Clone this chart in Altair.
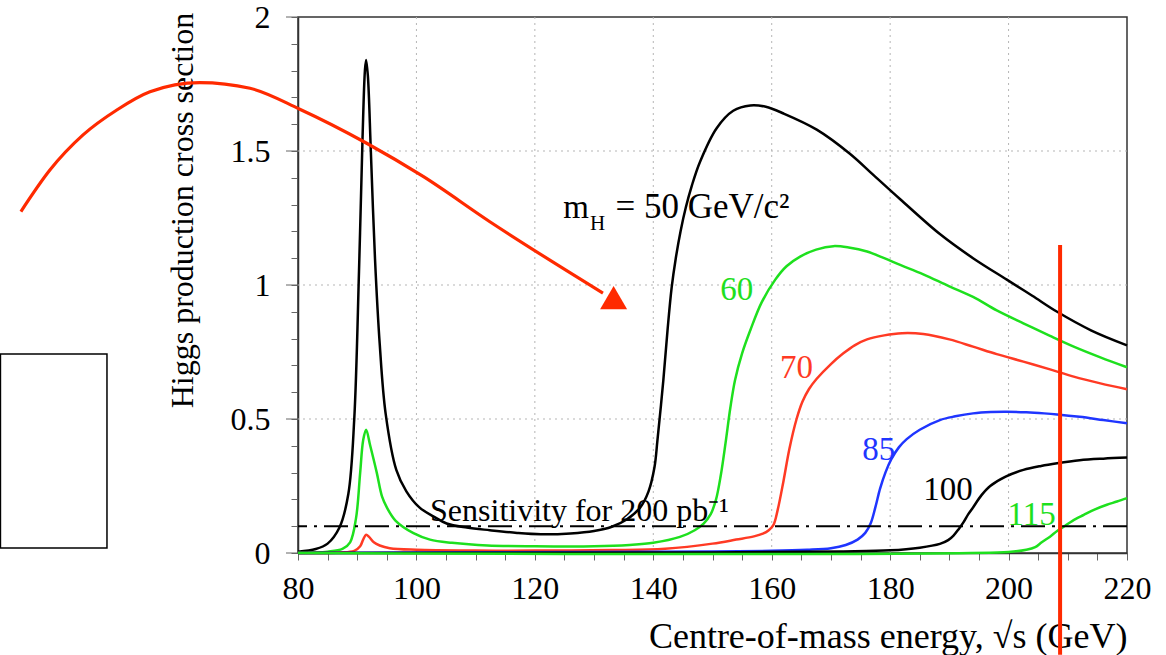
import altair as alt
import pandas as pd

FONT = "Liberation Serif"

# ---- curves: centre-of-mass energy (GeV) vs cross section (pb) ----
x_50 = [80, 83, 85, 87, 88.5, 89.5, 90.3, 90.9, 91.3, 91.5, 91.8, 92.3, 93.0, 93.8, 94.8, 96.6,
        98.3, 100.5, 103, 105.1, 108.5, 112.4, 117, 121, 126, 130, 133, 135.5, 137.8, 139.2,
        140.2, 140.7, 141.7, 142.4, 143.1, 143.8, 144.6, 145.5, 146.5, 147.9, 150.7, 153.5, 156.4, 159,
        162, 167.6, 173.2, 177.2, 181.7, 188.4, 194, 199.7, 204, 208.2, 214, 220]
y_50 = [0.005, 0.015, 0.035, 0.095, 0.22, 0.50, 1.05, 1.55, 1.80, 1.84, 1.78, 1.50, 1.10, 0.78, 0.52, 0.31,
        0.23, 0.17, 0.135, 0.11, 0.095, 0.085, 0.075, 0.07, 0.073, 0.082, 0.098, 0.125, 0.17, 0.23,
        0.32, 0.42, 0.645, 0.83, 0.99, 1.10, 1.20, 1.29, 1.37, 1.46, 1.585, 1.65, 1.67, 1.665,
        1.64, 1.58, 1.49, 1.41, 1.32, 1.19, 1.10, 1.02, 0.96, 0.90, 0.83, 0.775]

x_60 = [80, 85, 87.5, 88.8, 89.8, 90.5, 91.0, 91.5, 92.2, 93.3, 94.2, 95.0, 96.5, 99.5, 102.3,
        106, 112, 120, 130, 136, 140, 144.5, 147, 148.5, 149.7, 150.6, 151.4, 152.2, 153.0, 153.8,
        155, 156.4, 158.3, 160.6, 162.5, 164.8, 167.5, 170.4, 173, 176.1, 179, 181.7, 185.6, 190,
        194, 198, 202.5, 207, 211, 215.5, 220]
y_60 = [0.001, 0.005, 0.015, 0.04, 0.13, 0.30, 0.42, 0.46, 0.40, 0.30, 0.21, 0.17, 0.12, 0.074, 0.05,
        0.038, 0.028, 0.025, 0.025, 0.03, 0.038, 0.06, 0.085, 0.11, 0.145, 0.20, 0.29, 0.41, 0.54, 0.645,
        0.745, 0.832, 0.935, 1.02, 1.07, 1.106, 1.132, 1.145, 1.14, 1.125, 1.10, 1.075, 1.04, 0.995,
        0.956, 0.905, 0.857, 0.81, 0.77, 0.73, 0.693]

x_70 = [80, 87, 89.5, 90.5, 91.0, 91.5, 92.0, 92.8, 93.8, 95.5, 100, 110, 120, 133, 142, 150,
        154, 157, 158.5, 159.5, 160.3, 161, 162, 163, 164.2, 165.2, 166.3, 167.6, 170, 172.1,
        174, 176.1, 179, 182, 185.6, 190, 194, 198, 202.5, 207, 211, 215.5, 220]
y_70 = [0.0, 0.002, 0.008, 0.025, 0.05, 0.068, 0.06, 0.04, 0.028, 0.018, 0.012, 0.009, 0.009, 0.011, 0.016, 0.035,
        0.05, 0.062, 0.072, 0.085, 0.105, 0.16, 0.27, 0.39, 0.50, 0.565, 0.612, 0.65, 0.705, 0.745,
        0.775, 0.797, 0.812, 0.82, 0.817, 0.797, 0.77, 0.742, 0.714, 0.685, 0.658, 0.633, 0.611]

x_85 = [80, 100, 130, 150, 160, 166, 170, 172.5, 174.5, 175.8, 176.7, 177.5, 178.3, 179.2, 180.2,
        181.5, 182.8, 185, 188.4, 191, 194, 197, 199.7, 203, 206, 208.2, 212, 216, 220]
y_85 = [0.0, 0.002, 0.004, 0.006, 0.008, 0.012, 0.018, 0.03, 0.05, 0.075, 0.11, 0.17, 0.24, 0.30, 0.35,
        0.395, 0.425, 0.46, 0.496, 0.51, 0.521, 0.526, 0.527, 0.525, 0.521, 0.517, 0.508, 0.496, 0.484]

x_100 = [80, 150, 171.6, 180, 185, 188.4, 189.8, 190.7, 191.6, 192.4, 193.2, 194, 195.4, 196.9,
         199.5, 202.5, 205.5, 208.2, 212, 216, 220]
y_100 = [0.0, 0.002, 0.006, 0.01, 0.02, 0.034, 0.048, 0.065, 0.09, 0.115, 0.145, 0.17, 0.215, 0.25,
         0.285, 0.31, 0.325, 0.335, 0.346, 0.352, 0.356]

x_115 = [80, 200, 203, 204.5, 205.6, 207.0, 208.2, 209.3, 210.8, 212.7, 214.5, 216.6, 218.3, 220]
y_115 = [0.0, 0.004, 0.012, 0.022, 0.04, 0.061, 0.082, 0.098, 0.12, 0.142, 0.162, 0.18, 0.192, 0.205]

series_names = ["50", "60", "70", "85", "100", "115"]
series_colors = ["#000000", "#1ee01e", "#ff3a24", "#1f35ff", "#000000", "#1ee01e"]

# ---- axes ----
x_ticks = list(range(80, 221, 5))
x_labels = [80, 100, 120, 140, 160, 180, 200, 220]
x_grid = [100, 120, 140, 160, 180, 200]
y_ticks = [0, 0.1, 0.2, 0.3, 0.4, 0.5, 0.6, 0.7, 0.8, 0.9, 1, 1.1, 1.2, 1.3, 1.4, 1.5,
           1.6, 1.7, 1.8, 1.9, 2]
y_labels = [0, 0.5, 1, 1.5, 2]
y_grid = [0.5, 1, 1.5]

# ---- annotations ----
sens_level = [0.1]
sens_text = ["Sensitivity for 200 pb\u207b\u00b9"]
sens_pos = [(102.3, 0.118)]

curve_labels = ["60", "70", "85", "100", "115"]
curve_label_x = [151.3, 161.4, 175.3, 185.6, 199.8]
curve_label_y = [0.944, 0.653, 0.347, 0.198, 0.104]
curve_label_colors = ["#1ee01e", "#ff3a24", "#1f35ff", "#000000", "#1ee01e"]

mh_parts = ["m", "H", "= 50 GeV/c\u00b2"]
mh_x = [124.8, 129.3, 133.6]
mh_y = [1.25, 1.207, 1.25]
mh_size = [33, 21, 35]

arrow_x = [33.2, 38.1, 43.7, 49.4, 55.0, 63.4, 71.9, 80.3, 91.6, 101.2, 112.4, 131.5]
arrow_y = [1.274, 1.429, 1.560, 1.653, 1.721, 1.755, 1.734, 1.656, 1.529, 1.404, 1.236, 0.970]
arrow_head = [(133.3, 0.953)]

marker_x = [208.7]
marker_y = [(1.149, -0.38)]

box = [(29.75, 47.74, 0.7425, 0.0187)]

RED = "#ff2a00"

# ---- build tables ----
rows = []
for name, xs, ys in zip(series_names, [x_50, x_60, x_70, x_85, x_100, x_115],
                        [y_50, y_60, y_70, y_85, y_100, y_115]):
    for i, (a, b) in enumerate(zip(xs, ys)):
        rows.append({"series": name, "E": a, "sigma": b, "i": i})
curves_df = pd.DataFrame(rows)

xscale = alt.Scale(domain=[80, 220], nice=False, zero=False)
yscale = alt.Scale(domain=[0, 2], nice=False, zero=False)

x_label_expr = "indexof([" + ",".join(str(v) for v in x_labels) + "], datum.value) >= 0 ? datum.label : ''"
y_label_expr = "indexof([" + ",".join(str(v) for v in y_labels) + "], datum.value) >= 0 ? datum.label : ''"

x_axis = alt.Axis(
    values=x_ticks, labelExpr=x_label_expr, grid=False,
    title="Centre-of-mass energy, \u221as (GeV)",
    titleFont=FONT, titleFontSize=36, titleFontWeight="normal", titleColor="#000",
    titleX=829, titleY=94, titleAlign="right", titleBaseline="alphabetic", titleAngle=0,
    labelFont=FONT, labelFontSize=32, labelColor="#000", labelPadding=13,
    labelFlush=False, labelOverlap=False,
    tickSize=7, tickColor="#666", domainColor="#333", domainWidth=1.5,
)
y_axis = alt.Axis(
    values=y_ticks, labelExpr=y_label_expr, grid=False, format=".1~f",
    title="Higgs production cross section",
    titleFont=FONT, titleFontSize=32, titleFontWeight="normal", titleColor="#000",
    titleX=-106, titleY=193, titleAngle=270, titleAlign="center", titleBaseline="alphabetic",
    labelFont=FONT, labelFontSize=32, labelColor="#000", labelPadding=21,
    labelFlush=False, labelOverlap=False,
    tickSize=7, tickColor="#666", domainColor="#333", domainWidth=1.5,
)


def X(field):
    return alt.X(field, type="quantitative", scale=xscale, axis=x_axis)


def Y(field):
    return alt.Y(field, type="quantitative", scale=yscale, axis=y_axis)


xgrid = alt.Chart(pd.DataFrame({"v": x_grid})).mark_rule(
    color="#b5b5b5", strokeDash=[2, 4], strokeWidth=1
).encode(x=X("v"))
ygrid = alt.Chart(pd.DataFrame({"v": y_grid})).mark_rule(
    color="#b5b5b5", strokeDash=[2, 4], strokeWidth=1
).encode(y=Y("v"))

major_ticks = alt.Chart(pd.DataFrame({"v": y_labels})).mark_rule(
    color="#666", strokeWidth=1
).encode(y=Y("v"), x=alt.value(-12), x2=alt.value(0))

curves = alt.Chart(curves_df).mark_line(strokeWidth=2.5, interpolate="catmull-rom").encode(
    x=X("E"),
    y=Y("sigma"),
    color=alt.Color("series:N", scale=alt.Scale(domain=series_names, range=series_colors), legend=None),
    detail="series:N",
    order="i:Q",
)

sens = alt.Chart(pd.DataFrame({"v": sens_level})).mark_rule(
    color="#000", strokeWidth=2, strokeDash=[24, 7, 3, 7]
).encode(y=Y("v"))

sens_lbl = alt.Chart(pd.DataFrame({"t": sens_text, "x": [p[0] for p in sens_pos],
                                   "y": [p[1] for p in sens_pos]})).mark_text(
    align="left", baseline="alphabetic", font=FONT, fontSize=32, color="#000"
).encode(x=X("x"), y=Y("y"), text="t:N")

clabels = alt.Chart(pd.DataFrame({"t": curve_labels, "x": curve_label_x, "y": curve_label_y,
                                  "c": curve_label_colors})).mark_text(
    align="left", baseline="alphabetic", font=FONT, fontSize=33
).encode(x=X("x"), y=Y("y"), text="t:N", color=alt.Color("c:N", scale=None))

mh = alt.Chart(pd.DataFrame({"t": mh_parts, "x": mh_x, "y": mh_y, "s": mh_size})).mark_text(
    align="left", baseline="alphabetic", font=FONT, color="#000"
).encode(x=X("x"), y=Y("y"), text="t:N", size=alt.Size("s:Q", scale=None))

arrow = alt.Chart(pd.DataFrame({"x": arrow_x, "y": arrow_y, "i": list(range(len(arrow_x)))})).mark_line(
    color=RED, strokeWidth=3.2, interpolate="monotone", clip=False
).encode(x=X("x"), y=Y("y"), order="i:Q")

head = alt.Chart(pd.DataFrame({"x": [p[0] for p in arrow_head], "y": [p[1] for p in arrow_head]})).mark_point(
    shape="triangle-up", filled=True, color=RED, opacity=1, size=730, clip=False
).encode(x=X("x"), y=Y("y"))

marker = alt.Chart(pd.DataFrame({"x": marker_x, "y": [m[0] for m in marker_y],
                                 "y2": [m[1] for m in marker_y]})).mark_rule(
    color=RED, strokeWidth=4, clip=False
).encode(x=X("x"), y=Y("y"), y2="y2:Q")

boxc = alt.Chart(pd.DataFrame({"x": [b[0] for b in box], "x2": [b[1] for b in box],
                               "y": [b[2] for b in box], "y2": [b[3] for b in box]})).mark_rect(
    fillOpacity=0, stroke="#000", strokeWidth=1.5, clip=False
).encode(x=X("x"), x2="x2:Q", y=Y("y"), y2="y2:Q")

chart = alt.layer(
    xgrid, ygrid, major_ticks, curves, sens, sens_lbl, clabels, mh, boxc, arrow, head, marker
).properties(
    width=829, height=536,
    padding={"left": 298, "top": 17, "right": 39, "bottom": 102},
    autosize=alt.AutoSizeParams(type="none"),
    background="white",
).configure_view(stroke="#333", strokeWidth=1.5)

chart.save("out.html", embed_options={"renderer": "svg", "actions": False})
